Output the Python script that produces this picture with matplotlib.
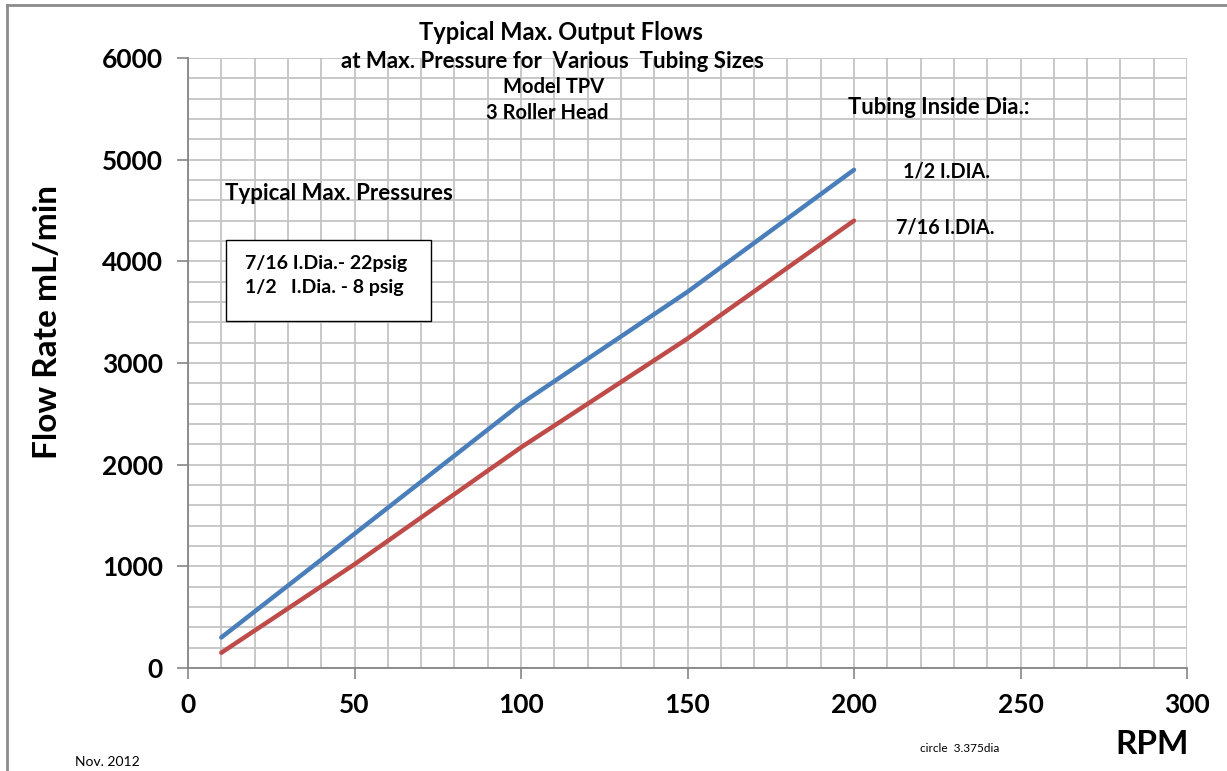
import matplotlib
matplotlib.use('Agg')
import matplotlib.pyplot as plt
from matplotlib.patches import Rectangle
from matplotlib.lines import Line2D

plt.rcParams['font.family'] = ['Lato', 'DejaVu Sans']

# data
rpm = [10, 50, 100, 150, 200]
flow_half = [300, 1320, 2600, 3700, 4900]      # 1/2 I.DIA.
flow_7_16 = [150, 1020, 2170, 3240, 4400]      # 7/16 I.DIA.

x_ticks = [0, 50, 100, 150, 200, 250, 300]
y_ticks = [0, 1000, 2000, 3000, 4000, 5000, 6000]

COLORS = ['#4a7ebb', '#be4b48']
GRID = '#c4c4c4'
AXIS = '#868686'

fig = plt.figure(figsize=(12.27, 7.71), dpi=100)
ax = fig.add_axes([188 / 1227, 1 - 668 / 771, 999 / 1227, 610 / 771])

ax.set_xlim(0, 300)
ax.set_ylim(0, 6000)
ax.set_xticks(x_ticks)
ax.set_yticks(y_ticks)
ax.set_xticks(range(0, 301, 10), minor=True)
ax.set_yticks(range(0, 6001, 200), minor=True)
ax.grid(which='both', color=GRID, linewidth=1.3)
ax.set_axisbelow(True)
ax.tick_params(which='major', direction='out', length=8, width=1.2, color=AXIS,
               labelsize=19)
ax.tick_params(axis='y', which='major', pad=10)
ax.tick_params(axis='x', which='major', pad=10)
ax.tick_params(which='minor', length=0)
for lab in ax.get_xticklabels() + ax.get_yticklabels():
    lab.set_fontweight('bold')
for side in ['top', 'right']:
    ax.spines[side].set_visible(False)
for side in ['left', 'bottom']:
    ax.spines[side].set_color(AXIS)
    ax.spines[side].set_linewidth(1.3)

ax.plot(rpm, flow_half, color=COLORS[0], linewidth=3.2, solid_capstyle='round')
ax.plot(rpm, flow_7_16, color=COLORS[1], linewidth=3.2, solid_capstyle='round')

# titles and notes
def px(x, y):
    return x / 1227, 1 - y / 771

fig.text(*px(561, 32), 'Typical Max. Output Flows', ha='center', va='center',
         fontsize=17, fontweight='bold')
fig.text(*px(552, 61), 'at Max. Pressure for  Various  Tubing Sizes', ha='center',
         va='center', fontsize=16, fontweight='bold')
fig.text(*px(554, 87), 'Model TPV', ha='center', va='center', fontsize=14.5,
         fontweight='bold')
fig.text(*px(547, 113), '3 Roller Head', ha='center', va='center', fontsize=14.5,
         fontweight='bold')
fig.text(*px(848, 108), 'Tubing Inside Dia.:', ha='left', va='center', fontsize=15.8,
         fontweight='bold')
fig.text(*px(903, 171), '1/2 I.DIA.', ha='left', va='center', fontsize=14.2,
         fontweight='bold')
fig.text(*px(896, 227), '7/16 I.DIA.', ha='left', va='center', fontsize=14.2,
         fontweight='bold')
fig.text(*px(225, 193), 'Typical Max. Pressures', ha='left', va='center', fontsize=16,
         fontweight='bold')
fig.text(*px(245, 264), '7/16 I.Dia.- 22psig', ha='left', va='center', fontsize=14,
         fontweight='bold')
fig.text(*px(245, 288), '1/2   I.Dia. - 8 psig', ha='left', va='center', fontsize=14,
         fontweight='bold')
fig.patches.append(Rectangle(px(226, 321), 205 / 1227, 81 / 771, transform=fig.transFigure,
                             fill=True, facecolor='white', edgecolor='black', linewidth=1.0,
                             zorder=1))

fig.text(*px(48, 322), 'Flow Rate mL/min', ha='center', va='center', rotation=90,
         fontsize=24, fontweight='bold')
fig.text(*px(1152, 744), 'RPM', ha='center', va='center', fontsize=24, fontweight='bold')
fig.text(*px(960, 748), 'circle  3.375dia', ha='center', va='center', fontsize=8.5)
fig.text(*px(75, 762), 'Nov. 2012', ha='left', va='center', fontsize=10)

# outer chart border (left and top)
fig.lines.append(Line2D([7 / 1227, 7 / 1227], [0, 1 - 5 / 771], transform=fig.transFigure,
                        color='#8c8c8c', linewidth=2))
fig.lines.append(Line2D([7 / 1227, 1], [1 - 5 / 771, 1 - 5 / 771], transform=fig.transFigure,
                        color='#8c8c8c', linewidth=2))

plt.savefig('out.png', dpi=100)
